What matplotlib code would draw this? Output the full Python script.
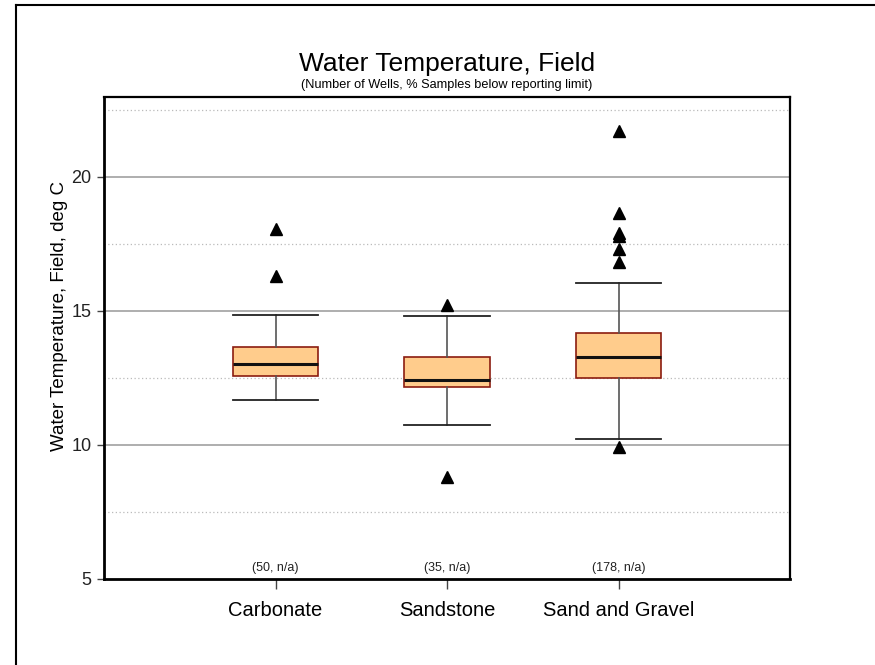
import matplotlib
matplotlib.use('Agg')
import matplotlib.pyplot as plt
from matplotlib.lines import Line2D

plt.rcParams['font.family'] = ['Liberation Sans', 'DejaVu Sans']

# data
groups = ['Carbonate', 'Sandstone', 'Sand and Gravel']
counts = ['(50, n/a)', '(35, n/a)', '(178, n/a)']
whislo = [11.68, 10.74, 10.21]
q1 = [12.58, 12.16, 12.49]
med = [13.00, 12.40, 13.28]
q3 = [13.66, 13.26, 14.15]
whishi = [14.84, 14.80, 16.05]
outliers = [
    [18.05, 16.28],
    [15.20, 8.80],
    [21.72, 18.64, 17.92, 17.79, 17.29, 16.82, 9.91],
]

W, H = 875, 665
fig = plt.figure(figsize=(W / 100, H / 100), dpi=100)
ax = fig.add_axes([104 / W, 1 - 578.5 / H, (790 - 104) / W, (578.5 - 96.5) / H])

stats = []
for i in range(len(groups)):
    stats.append({'label': groups[i], 'whislo': whislo[i], 'q1': q1[i], 'med': med[i],
                  'q3': q3[i], 'whishi': whishi[i], 'fliers': outliers[i]})

pos = list(range(1, len(groups) + 1))
ax.bxp(stats, positions=pos, widths=0.5, capwidths=0.5, patch_artist=True,
       boxprops=dict(facecolor='#FFCC8C', edgecolor='#8B1C10', linewidth=1.2),
       medianprops=dict(color='#111111', linewidth=2.2),
       whiskerprops=dict(color='#555555', linewidth=1.2),
       capprops=dict(color='#222222', linewidth=1.3),
       flierprops=dict(marker='^', markerfacecolor='black', markeredgecolor='black',
                       markersize=8, linestyle='none'),
       zorder=3)

ax.set_xlim(0, 4)
ax.set_ylim(5, 23)
ax.set_yticks([5, 10, 15, 20])
ax.set_xticks(pos)
ax.set_xticklabels(groups, fontsize=14.5)
ax.tick_params(axis='y', labelsize=13, length=5, width=1, color='#444444', pad=4, labelcolor='#222222')
ax.tick_params(axis='x', length=7, width=1, color='#444444', pad=9)

# grid: solid at major, dotted at half steps
for v in [10, 15, 20]:
    ax.axhline(v, color='#999999', linewidth=1.1, zorder=1)
for v in [7.5, 12.5, 17.5, 22.5]:
    ax.axhline(v, color='#bbbbbb', linewidth=0.9, linestyle=(0, (1, 2)), zorder=1)

for s in ['top', 'right']:
    ax.spines[s].set_linewidth(1.6)
for s in ['left', 'bottom']:
    ax.spines[s].set_linewidth(2)

for p, c in zip(pos, counts):
    ax.annotate(c, xy=(p, 5), xytext=(0, 11), textcoords='offset pixels',
                ha='center', va='center', fontsize=9, color='#222222')

fig.text(447 / W, 1 - 64 / H, 'Water Temperature, Field', ha='center', va='center', fontsize=19)
fig.text(447 / W, 1 - 85 / H, '(Number of Wells, % Samples below reporting limit)',
         ha='center', va='center', fontsize=9.2)
fig.text(60 / W, 1 - 316 / H, 'Water Temperature, Field, deg C', rotation=90,
         ha='center', va='center', fontsize=13.5)

# frame lines on the left and top of the picture
fig.add_artist(Line2D([16 / W, 16 / W], [0, 1 - 5 / H], color='black', linewidth=1.5))
fig.add_artist(Line2D([16 / W, 1], [1 - 5 / H, 1 - 5 / H], color='black', linewidth=1.5))

fig.savefig('out.png', dpi=100)
